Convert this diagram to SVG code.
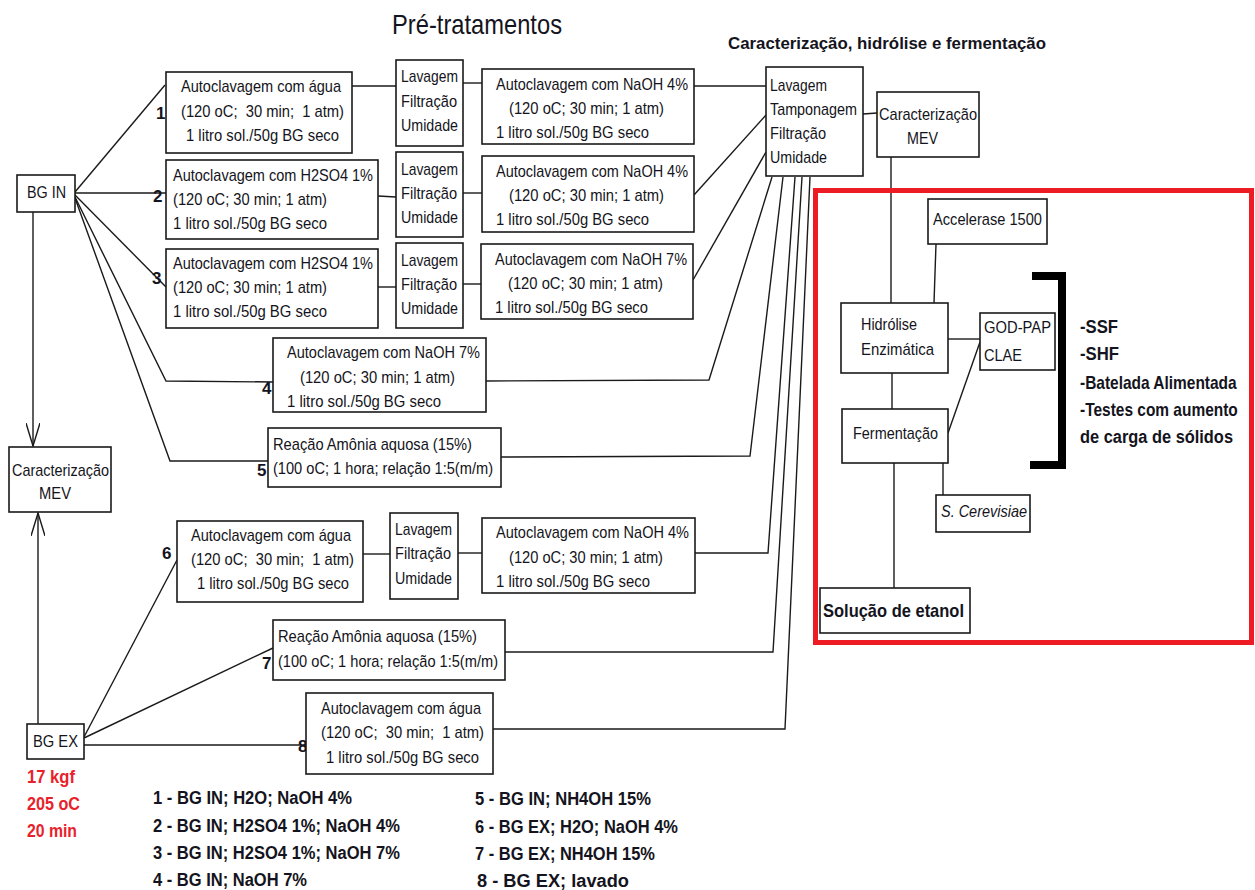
<svg xmlns="http://www.w3.org/2000/svg" width="1255" height="890" viewBox="0 0 1255 890">
<style>
text{font-family:"Liberation Sans",Arial,sans-serif;fill:#141420;font-size:17px}
.b{font-weight:bold}
.lg{font-weight:bold;font-size:18px}
.red{font-weight:bold;font-size:18px;fill:#e8222b}
.num{font-weight:bold;font-size:17px}
.box{fill:#fff;stroke:#1a1a1a;stroke-width:1.6}
.ln{fill:none;stroke:#1a1a1a;stroke-width:1.4}
</style>
<defs>
<marker id="arr" viewBox="0 0 24 14" refX="23" refY="7" markerWidth="24" markerHeight="14" markerUnits="userSpaceOnUse" orient="auto">
<path d="M0,0 L23,7 L0,14" fill="none" stroke="#1a1a1a" stroke-width="1.4"/>
</marker>
</defs>
<rect width="1255" height="890" fill="#fff"/>

<text x="392" y="34" style="font-size:28px" textLength="170" lengthAdjust="spacingAndGlyphs">Pré-tratamentos</text>
<text x="728" y="49" class="b" style="font-size:16px" textLength="318" lengthAdjust="spacingAndGlyphs">Caracterização, hidrólise e fermentação</text>

<g id="connectors">
<path class="ln" d="M75,192 L165,85"/>
<path class="ln" d="M75,193 L166,193"/>
<path class="ln" d="M75,195 L166,287"/>
<path class="ln" d="M75,197 L166,381 L273,382"/>
<path class="ln" d="M75,198 L170,461 L268,461"/>
<path class="ln" d="M33,212 L33,446" marker-end="url(#arr)"/>
<path class="ln" d="M38,724 L38,513" marker-end="url(#arr)"/>
<path class="ln" d="M84,737 L177,560"/>
<path class="ln" d="M84,738 L273,648"/>
<path class="ln" d="M84,745 L306,745"/>
<path class="ln" d="M352,86 L396,86"/>
<path class="ln" d="M463,83 L482,83"/>
<path class="ln" d="M694,86 L766,86"/>
<path class="ln" d="M378,196 L396,197"/>
<path class="ln" d="M463,193 L482,193"/>
<path class="ln" d="M694,195 L766,115"/>
<path class="ln" d="M378,287 L396,287"/>
<path class="ln" d="M463,284 L481,284"/>
<path class="ln" d="M693,280 L766,152"/>
<path class="ln" d="M486,381 L709,380 L772,177"/>
<path class="ln" d="M501,457 L750,456 L783,177"/>
<path class="ln" d="M363,554 L390,554"/>
<path class="ln" d="M458,553 L482,553"/>
<path class="ln" d="M695,553 L768,553 L795,177"/>
<path class="ln" d="M505,652 L773,652 L802,177"/>
<path class="ln" d="M493,729 L785,729 L810,177"/>
<path class="ln" d="M863,114 L877,113"/>
<path class="ln" d="M891,157 L891,303"/>
<path class="ln" d="M936,244 L934,303"/>
<path class="ln" d="M948,339 L980,339"/>
<path class="ln" d="M980,342 L948,433"/>
<path class="ln" d="M892,373 L892,409"/>
<path class="ln" d="M894,463 L894,588"/>
<path class="ln" d="M943,463 L943,495"/>
</g>

<rect x="815.5" y="190.5" width="436" height="452" fill="none" stroke="#ed1c24" stroke-width="5"/>
<path d="M1032,276 H1062 V465 H1030" fill="none" stroke="#000" stroke-width="8"/>

<g id="bg-in"><rect class="box" x="17" y="175" width="58" height="37"/><text x="27" y="198" textLength="39" lengthAdjust="spacingAndGlyphs">BG IN</text></g>
<g id="bg-ex"><rect class="box" x="27" y="724" width="57" height="35"/><text x="33" y="747" textLength="45" lengthAdjust="spacingAndGlyphs">BG EX</text></g>
<g id="mev-left"><rect class="box" x="9" y="447" width="102" height="65"/><text x="12" y="476" textLength="97" lengthAdjust="spacingAndGlyphs">Caracterização</text><text x="39" y="499" textLength="32" lengthAdjust="spacingAndGlyphs">MEV</text></g>

<g id="labels">
<text class="num" x="156" y="119">1</text>
<text class="num" x="153" y="202">2</text>
<text class="num" x="152" y="284">3</text>
<text class="num" x="262" y="394">4</text>
<text class="num" x="257" y="476">5</text>
<text class="num" x="162" y="559">6</text>
<text class="num" x="262" y="669">7</text>
<text class="num" x="298" y="752">8</text>
</g>

<g id="box1"><rect class="box" x="166" y="72" width="186" height="81"/>
<text x="181" y="92" textLength="160" lengthAdjust="spacingAndGlyphs">Autoclavagem com água</text>
<text x="181" y="117" xml:space="preserve" textLength="163" lengthAdjust="spacingAndGlyphs">(120 oC;  30 min;  1 atm)</text>
<text x="186" y="141" textLength="153" lengthAdjust="spacingAndGlyphs">1 litro sol./50g BG seco</text></g>

<g id="box2"><rect class="box" x="166" y="160" width="212" height="79"/>
<text x="173" y="181" textLength="200" lengthAdjust="spacingAndGlyphs">Autoclavagem com H2SO4 1%</text>
<text x="173" y="205" textLength="154" lengthAdjust="spacingAndGlyphs">(120 oC; 30 min; 1 atm)</text>
<text x="173" y="229" textLength="154" lengthAdjust="spacingAndGlyphs">1 litro sol./50g BG seco</text></g>

<g id="box3"><rect class="box" x="166" y="249" width="212" height="79"/>
<text x="173" y="269" textLength="200" lengthAdjust="spacingAndGlyphs">Autoclavagem com H2SO4 1%</text>
<text x="173" y="293" textLength="154" lengthAdjust="spacingAndGlyphs">(120 oC; 30 min; 1 atm)</text>
<text x="173" y="317" textLength="154" lengthAdjust="spacingAndGlyphs">1 litro sol./50g BG seco</text></g>

<g id="lav1"><rect class="box" x="396" y="60" width="67" height="86"/>
<text x="401" y="82" textLength="57" lengthAdjust="spacingAndGlyphs">Lavagem</text>
<text x="401" y="107" textLength="56" lengthAdjust="spacingAndGlyphs">Filtração</text>
<text x="401" y="131" textLength="57" lengthAdjust="spacingAndGlyphs">Umidade</text></g>
<g id="lav2"><rect class="box" x="396" y="152" width="67" height="85"/>
<text x="401" y="175" textLength="57" lengthAdjust="spacingAndGlyphs">Lavagem</text>
<text x="401" y="199" textLength="56" lengthAdjust="spacingAndGlyphs">Filtração</text>
<text x="401" y="223" textLength="57" lengthAdjust="spacingAndGlyphs">Umidade</text></g>
<g id="lav3"><rect class="box" x="396" y="243" width="67" height="85"/>
<text x="401" y="266" textLength="57" lengthAdjust="spacingAndGlyphs">Lavagem</text>
<text x="401" y="290" textLength="56" lengthAdjust="spacingAndGlyphs">Filtração</text>
<text x="401" y="314" textLength="57" lengthAdjust="spacingAndGlyphs">Umidade</text></g>

<g id="naoh1"><rect class="box" x="482" y="69" width="212" height="75"/>
<text x="496" y="90" textLength="192" lengthAdjust="spacingAndGlyphs">Autoclavagem com NaOH 4%</text>
<text x="509" y="114" textLength="155" lengthAdjust="spacingAndGlyphs">(120 oC; 30 min; 1 atm)</text>
<text x="496" y="138" textLength="153" lengthAdjust="spacingAndGlyphs">1 litro sol./50g BG seco</text></g>
<g id="naoh2"><rect class="box" x="482" y="156" width="212" height="76"/>
<text x="496" y="177" textLength="192" lengthAdjust="spacingAndGlyphs">Autoclavagem com NaOH 4%</text>
<text x="509" y="201" textLength="155" lengthAdjust="spacingAndGlyphs">(120 oC; 30 min; 1 atm)</text>
<text x="496" y="225" textLength="153" lengthAdjust="spacingAndGlyphs">1 litro sol./50g BG seco</text></g>
<g id="naoh3"><rect class="box" x="481" y="244" width="212" height="75"/>
<text x="495" y="265" textLength="192" lengthAdjust="spacingAndGlyphs">Autoclavagem com NaOH 7%</text>
<text x="508" y="289" textLength="155" lengthAdjust="spacingAndGlyphs">(120 oC; 30 min; 1 atm)</text>
<text x="495" y="313" textLength="153" lengthAdjust="spacingAndGlyphs">1 litro sol./50g BG seco</text></g>

<g id="box4"><rect class="box" x="273" y="338" width="213" height="74"/>
<text x="287" y="358" textLength="193" lengthAdjust="spacingAndGlyphs">Autoclavagem com NaOH 7%</text>
<text x="300" y="383" textLength="155" lengthAdjust="spacingAndGlyphs">(120 oC; 30 min; 1 atm)</text>
<text x="287" y="407" textLength="154" lengthAdjust="spacingAndGlyphs">1 litro sol./50g BG seco</text></g>

<g id="box5"><rect class="box" x="268" y="428" width="233" height="59"/>
<text x="273" y="450" textLength="199" lengthAdjust="spacingAndGlyphs">Reação Amônia aquosa (15%)</text>
<text x="273" y="474" textLength="220" lengthAdjust="spacingAndGlyphs">(100 oC; 1 hora; relação 1:5(m/m)</text></g>

<g id="box6"><rect class="box" x="177" y="521" width="186" height="81"/>
<text x="191" y="541" textLength="160" lengthAdjust="spacingAndGlyphs">Autoclavagem com água</text>
<text x="191" y="565" xml:space="preserve" textLength="163" lengthAdjust="spacingAndGlyphs">(120 oC;  30 min;  1 atm)</text>
<text x="197" y="589" textLength="152" lengthAdjust="spacingAndGlyphs">1 litro sol./50g BG seco</text></g>

<g id="lav6"><rect class="box" x="390" y="513" width="68" height="86"/>
<text x="395" y="535" textLength="57" lengthAdjust="spacingAndGlyphs">Lavagem</text>
<text x="395" y="559" textLength="56" lengthAdjust="spacingAndGlyphs">Filtração</text>
<text x="395" y="584" textLength="57" lengthAdjust="spacingAndGlyphs">Umidade</text></g>

<g id="naoh6"><rect class="box" x="482" y="518" width="213" height="75"/>
<text x="496" y="538" textLength="193" lengthAdjust="spacingAndGlyphs">Autoclavagem com NaOH 4%</text>
<text x="509" y="563" textLength="154" lengthAdjust="spacingAndGlyphs">(120 oC; 30 min; 1 atm)</text>
<text x="496" y="587" textLength="154" lengthAdjust="spacingAndGlyphs">1 litro sol./50g BG seco</text></g>

<g id="box7"><rect class="box" x="273" y="620" width="232" height="60"/>
<text x="278" y="642" textLength="199" lengthAdjust="spacingAndGlyphs">Reação Amônia aquosa (15%)</text>
<text x="278" y="667" textLength="220" lengthAdjust="spacingAndGlyphs">(100 oC; 1 hora; relação 1:5(m/m)</text></g>

<g id="box8"><rect class="box" x="306" y="693" width="187" height="81"/>
<text x="321" y="714" textLength="160" lengthAdjust="spacingAndGlyphs">Autoclavagem com água</text>
<text x="321" y="738" xml:space="preserve" textLength="163" lengthAdjust="spacingAndGlyphs">(120 oC;  30 min;  1 atm)</text>
<text x="326" y="763" textLength="153" lengthAdjust="spacingAndGlyphs">1 litro sol./50g BG seco</text></g>

<g id="lav-tamp"><rect class="box" x="766" y="67" width="97" height="109"/>
<text x="770" y="91" textLength="57" lengthAdjust="spacingAndGlyphs">Lavagem</text>
<text x="770" y="115" textLength="87" lengthAdjust="spacingAndGlyphs">Tamponagem</text>
<text x="770" y="139" textLength="56" lengthAdjust="spacingAndGlyphs">Filtração</text>
<text x="770" y="163" textLength="57" lengthAdjust="spacingAndGlyphs">Umidade</text></g>

<g id="mev-right"><rect class="box" x="877" y="92" width="102" height="65"/>
<text x="879" y="120" textLength="98" lengthAdjust="spacingAndGlyphs">Caracterização</text>
<text x="907" y="144" textLength="31" lengthAdjust="spacingAndGlyphs">MEV</text></g>

<g id="accelerase"><rect class="box" x="928" y="199" width="119" height="45"/>
<text x="933" y="225" textLength="109" lengthAdjust="spacingAndGlyphs">Accelerase 1500</text></g>

<g id="hidrolise"><rect class="box" x="841" y="303" width="107" height="70"/>
<text x="861" y="330" textLength="56" lengthAdjust="spacingAndGlyphs">Hidrólise</text>
<text x="861" y="355" textLength="73" lengthAdjust="spacingAndGlyphs">Enzimática</text></g>

<g id="godpap"><rect class="box" x="980" y="313" width="75" height="57"/>
<text x="984" y="333" textLength="67" lengthAdjust="spacingAndGlyphs">GOD-PAP</text>
<text x="984" y="361" textLength="38" lengthAdjust="spacingAndGlyphs">CLAE</text></g>

<g id="fermentacao"><rect class="box" x="842" y="409" width="106" height="54"/>
<text x="853" y="439" textLength="85" lengthAdjust="spacingAndGlyphs">Fermentação</text></g>

<g id="cerevisiae"><rect class="box" x="936" y="495" width="94" height="37"/>
<text x="941" y="517" style="font-style:italic" textLength="86" lengthAdjust="spacingAndGlyphs">S. Cerevisiae</text></g>

<g id="etanol"><rect class="box" x="820" y="588" width="150" height="45"/>
<text x="823" y="617" class="b" style="font-size:19px" textLength="141" lengthAdjust="spacingAndGlyphs">Solução de etanol</text></g>

<g id="bullets">
<text class="lg" x="1080" y="333" textLength="38" lengthAdjust="spacingAndGlyphs">-SSF</text>
<text class="lg" x="1080" y="360" textLength="39" lengthAdjust="spacingAndGlyphs">-SHF</text>
<text class="lg" transform="translate(1080,389) scale(0.86,1)">-Batelada Alimentada</text>
<text class="lg" transform="translate(1080,416) scale(0.86,1)">-Testes com aumento</text>
<text class="lg" x="1080" y="443" textLength="153" lengthAdjust="spacingAndGlyphs">de carga de sólidos</text>
</g>

<g id="bgex-params">
<text class="red" x="27" y="783" textLength="48" lengthAdjust="spacingAndGlyphs">17 kgf</text>
<text class="red" x="27" y="810" textLength="53" lengthAdjust="spacingAndGlyphs">205 oC</text>
<text class="red" x="27" y="837" textLength="50" lengthAdjust="spacingAndGlyphs">20 min</text>
</g>

<g id="legend">
<text class="lg" x="153" y="804" textLength="199" lengthAdjust="spacingAndGlyphs">1 - BG IN; H2O; NaOH 4%</text>
<text class="lg" x="153" y="832" textLength="247" lengthAdjust="spacingAndGlyphs">2 - BG IN; H2SO4 1%; NaOH 4%</text>
<text class="lg" x="153" y="859" textLength="247" lengthAdjust="spacingAndGlyphs">3 - BG IN; H2SO4 1%; NaOH 7%</text>
<text class="lg" x="153" y="886" textLength="154" lengthAdjust="spacingAndGlyphs">4 - BG IN; NaOH 7%</text>
<text class="lg" x="475" y="805" textLength="176" lengthAdjust="spacingAndGlyphs">5 - BG IN; NH4OH 15%</text>
<text class="lg" x="475" y="833" textLength="203" lengthAdjust="spacingAndGlyphs">6 - BG EX; H2O; NaOH 4%</text>
<text class="lg" x="475" y="860" textLength="180" lengthAdjust="spacingAndGlyphs">7 - BG EX; NH4OH 15%</text>
<text class="lg" x="477" y="887" textLength="152" lengthAdjust="spacingAndGlyphs">8 - BG EX; lavado</text>
</g>
</svg>
